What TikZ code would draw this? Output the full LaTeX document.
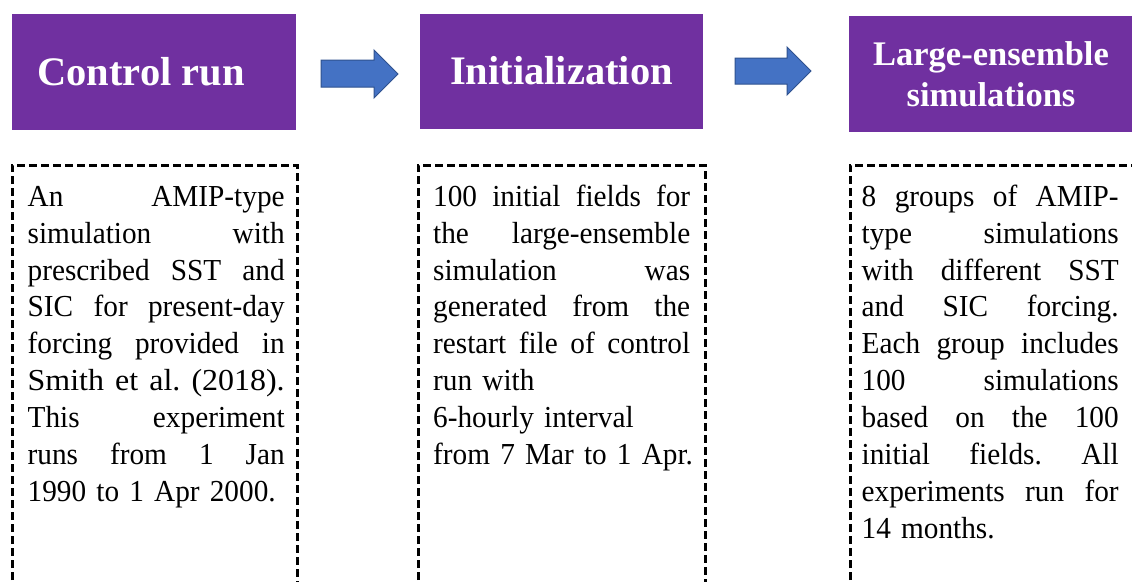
\documentclass[tikz,border=0pt]{standalone}
\usepackage{fontspec}
\usepackage{graphicx}
\setmainfont{Liberation Serif}
\newfontfamily\bodyfont{Liberation Serif}[FakeStretch=0.96]
\definecolor{hdrpurple}{HTML}{7030A0}
\definecolor{arrowblue}{HTML}{4472C4}
\definecolor{arrowedge}{HTML}{2F528F}
\newcommand{\jl}[1]{\leavevmode\hbox to 257pt{#1}}
\newcommand{\jfit}[1]{\leavevmode\resizebox{257pt}{\height}{#1}}
\frenchspacing
\begin{document}
\begin{tikzpicture}[x=1pt,y=-1pt,
  header/.style={fill=hdrpurple, draw=none, text=white, inner sep=0pt,
    minimum width=284pt, minimum height=116pt,
    font=\bfseries\fontsize{40.5}{46}\selectfont},
  blockarrow/.style={fill=arrowblue, draw=arrowedge, line width=1pt, line join=miter},
  dashbox/.style={draw=black, line width=3pt, dash pattern=on 8pt off 4pt},
  bodytext/.style={inner sep=0pt, align=left, text width=320pt, anchor=north west,
    font=\bodyfont\fontsize{30.5}{36.9}\selectfont}]
\useasboundingbox (0,0) rectangle (1132,581);
\clip (0,0) rectangle (1132,581);
\fill[white] (0,0) rectangle (1132,581);

% header boxes
\node[header] (ctrl) at (154,71.5) {Control run\hspace*{26pt}};
\node[header, minimum width=283pt, minimum height=115pt] (init) at (561.5,71) {Initialization};
\node[header, align=center, font=\bfseries\fontsize{34.5}{41}\selectfont] (lens) at (991,74) {Large-ensemble\\simulations};

% block arrows
\draw[blockarrow] (321,60) -- (374,60) -- (374,50) -- (398,74) -- (374,98) -- (374,87) -- (321,87) -- cycle;
\draw[blockarrow] (735,58) -- (787,58) -- (787,47) -- (811,71) -- (787,95) -- (787,84) -- (735,84) -- cycle;

% dashed boxes (open at the bottom edge of the picture)
\draw[dashbox] (12,640) |- (297,165) -- (297,640);
\draw[dashbox] (418,640) |- (705,165) -- (705,640);
\draw[dashbox] (850,640) |- (1140,165);

% texts
\node[bodytext] (t1) at (27.5,180.2) {%
\jl{\strut An \hfill AMIP-type}\\
\jl{simulation \hfill with}\\
\jl{prescribed \hfill SST \hfill and}\\
\jl{SIC \hfill for \hfill present-day}\\
\jl{forcing \hfill provided \hfill in}\\
\jfit{Smith et al. (2018).}\\
\jl{This \hfill experiment}\\
\jl{runs \hfill from \hfill 1 \hfill Jan}\\
1990 to 1 Apr 2000.};

\node[bodytext] (t2) at (433,180.2) {%
\jl{\strut 100 \hfill initial \hfill fields \hfill for}\\
\jl{the \hfill large-ensemble}\\
\jl{simulation \hfill was}\\
\jl{generated \hfill from \hfill the}\\
\jl{restart \hfill file \hfill of \hfill control}\\
run with\\
6-hourly interval\\
from 7 Mar to 1 Apr.};

\node[bodytext] (t3) at (861.5,180.2) {%
\jl{\strut 8 \hfill groups \hfill of \hfill AMIP-}\\
\jl{type \hfill simulations}\\
\jl{with \hfill different \hfill SST}\\
\jl{and \hfill SIC \hfill forcing.}\\
\jl{Each \hfill group \hfill includes}\\
\jl{100 \hfill simulations}\\
\jl{based \hfill on \hfill the \hfill 100}\\
\jl{initial \hfill fields. \hfill All}\\
\jl{experiments \hfill run \hfill for}\\
14 months.};
\end{tikzpicture}
\end{document}
